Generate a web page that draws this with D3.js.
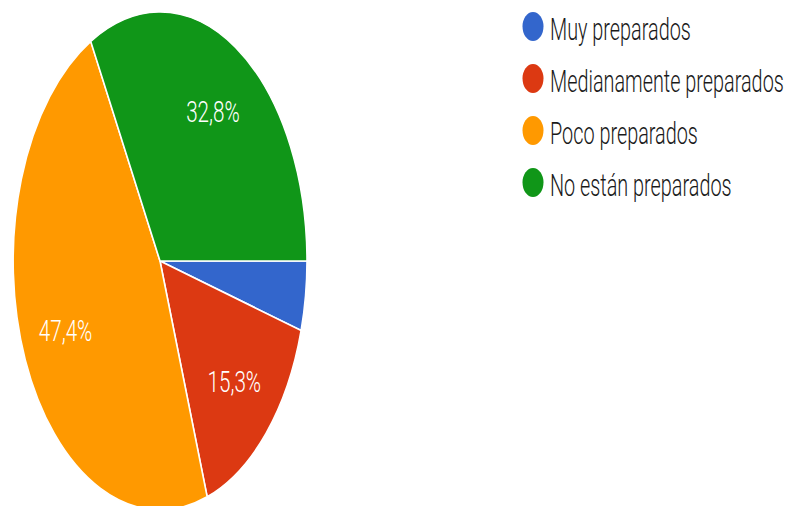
<!DOCTYPE html>
<html>
<head>
<meta charset="utf-8">
<script src="https://cdn.jsdelivr.net/npm/d3@7"></script>
<style>
  html, body { margin: 0; padding: 0; background: #fff; }
  svg { display: block; }
</style>
</head>
<body>
<svg id="chart" width="788" height="506"></svg>
<script>
// Survey answers and their shares (percent)
const categories = ["Muy preparados", "Medianamente preparados", "Poco preparados", "No están preparados"];
const values = [4.5, 15.3, 47.4, 32.8];
const colors = ["#3366cc", "#dc3912", "#ff9900", "#109618"];
const labels = ["4,5%", "15,3%", "47,4%", "32,8%"];

const svg = d3.select("#chart");

// Pie geometry: the plot is stretched vertically, so the pie is an ellipse
const cx = 160, cy = 261, rx = 147, ry = 249;

const data = categories.map((c, i) => ({ name: c, value: values[i], color: colors[i], label: labels[i] }));

const pie = d3.pie()
  .value(d => d.value)
  .sort(null)
  .startAngle(Math.PI / 2)
  .endAngle(Math.PI / 2 + 2 * Math.PI);

const arcs = pie(data);
const arc = d3.arc().innerRadius(0).outerRadius(1);
const labelArc = d3.arc().innerRadius(0.7).outerRadius(0.7);

const pieG = svg.append("g")
  .attr("transform", `translate(${cx},${cy}) scale(${rx},${ry})`);

pieG.selectAll("path")
  .data(arcs)
  .join("path")
  .attr("d", arc)
  .attr("fill", d => d.data.color)
  .attr("stroke", "#fff")
  .attr("stroke-width", 1.6)
  .attr("vector-effect", "non-scaling-stroke");

// Percentage labels for slices large enough to hold them
const labelSize = 29.5, labelScaleX = 0.7;
svg.append("g").selectAll("text")
  .data(arcs.filter(d => d.data.value >= 10))
  .join("text")
  .attr("transform", d => {
    const [x, y] = labelArc.centroid(d);
    return `translate(${cx + x * rx},${cy + y * ry + labelSize * 0.355}) scale(${labelScaleX},1)`;
  })
  .attr("text-anchor", "middle")
  .attr("font-family", "Roboto, Arial, sans-serif")
  .attr("font-weight", 300)
  .attr("font-size", labelSize)
  .attr("fill", "#fff")
  .text(d => d.data.label);

// Legend
const legendX = 533, legendY0 = 26.5, legendStep = 52;
const legendSize = 31.5, legendScaleX = 0.63;
const legend = svg.append("g").selectAll("g")
  .data(data)
  .join("g")
  .attr("transform", (d, i) => `translate(${legendX},${legendY0 + i * legendStep})`);

legend.append("ellipse")
  .attr("rx", 10.5)
  .attr("ry", 14.5)
  .attr("fill", d => d.color);

legend.append("text")
  .attr("transform", `translate(17,${legendSize * 0.355 + 2.5}) scale(${legendScaleX},1)`)
  .attr("font-family", "Roboto, Arial, sans-serif")
  .attr("font-weight", 300)
  .attr("font-size", legendSize)
  .attr("fill", "#1a1a1a")
  .text(d => d.name);
</script>
</body>
</html>
